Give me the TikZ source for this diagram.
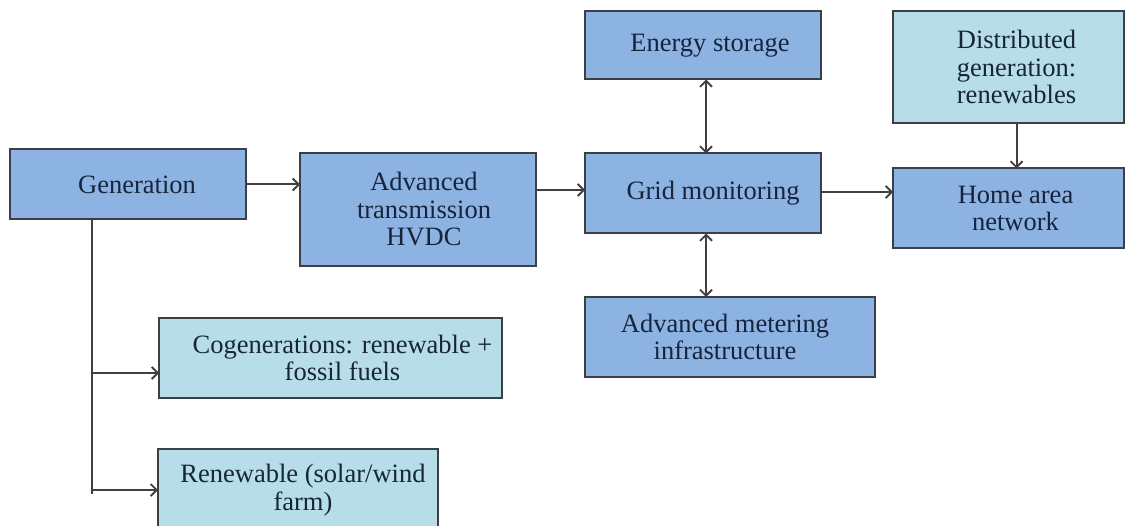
\documentclass[tikz,border=0pt]{standalone}
\usepackage{fontspec}
\setmainfont{Liberation Serif}
\usetikzlibrary{arrows.meta,calc}
\definecolor{darkbox}{HTML}{8DB3E2}
\definecolor{lightbox}{HTML}{B7DDE8}
\definecolor{edge}{HTML}{3A3F48}
\definecolor{navy}{HTML}{16243C}
\definecolor{arrowgray}{HTML}{404040}
\newcommand{\boxfont}{\fontsize{26.5}{27.5}\selectfont}
\begin{document}
\begin{tikzpicture}[x=1pt,y=-1pt,
  box/.style={draw=edge, line width=2pt, rectangle, inner sep=0pt, outer sep=0pt},
  dbox/.style={box, fill=darkbox},
  lbox/.style={box, fill=lightbox},
  every label/.style={font=\boxfont, text=navy, align=center, inner sep=0pt},
  arr/.style={draw=arrowgray, line width=2pt, -{Straight Barb[length=6pt,width=12pt,line width=1.8pt]}},
  darr/.style={draw=arrowgray, line width=2pt, {Straight Barb[length=6pt,width=12pt,line width=1.8pt]}-{Straight Barb[length=6pt,width=12pt,line width=1.8pt]}},
  line/.style={draw=arrowgray, line width=2pt}]
\useasboundingbox (0,0) rectangle (1126,526);
\clip (0,0) rectangle (1126,526);
\fill[white] (0,0) rectangle (1126,526);

\node[dbox, minimum width=236pt, minimum height=70pt, label={[xshift=9pt]center:Generation}] (gen) at (128,184.5) {};
\node[dbox, minimum width=236pt, minimum height=113pt, label={[xshift=6pt]center:Advanced\\transmission\\HVDC}] (hvdc) at (418,209.5) {};
\node[dbox, minimum width=236pt, minimum height=68pt, label={[xshift=7pt]center:Energy storage}] (es) at (703,45.5) {};
\node[dbox, minimum width=236pt, minimum height=80pt, label={[xshift=10pt]center:Grid monitoring}] (grid) at (703,193.5) {};
\node[dbox, minimum width=290pt, minimum height=80pt, label={[xshift=-5pt]center:Advanced metering\\infrastructure}] (ami) at (730,337) {};
\node[lbox, minimum width=231pt, minimum height=112pt, label={[xshift=8pt]center:Distributed\\generation:\\renewables}] (dg) at (1008.5,67) {};
\node[dbox, minimum width=231pt, minimum height=80pt, label={[xshift=7pt]center:Home area\\network}] (han) at (1008.5,208.5) {};
\node[lbox, minimum width=343pt, minimum height=80pt, label={[xshift=12pt]center:Cogenerations: renewable +\\fossil fuels}] (cog) at (330.5,358) {};
\node[lbox, minimum width=280pt, minimum height=92pt, label={[xshift=5pt,yshift=5pt]center:Renewable (solar/wind\\farm)}] (ren) at (298,495) {};

\coordinate (t0) at ($(gen.south west)+(82,0)$);
\coordinate (t1) at (92,494);
\coordinate (c1) at (92,373);
\coordinate (r1) at (92,490);

\draw[arr] (gen.east) -- (gen.east -| hvdc.west);
\draw[arr] (hvdc.east |- 0,190) -- (grid.west |- 0,190);
\draw[arr] (grid.east |- 0,192) -- (han.west |- 0,192);
\draw[darr] (es.south) ++(3,0) coordinate (esb) -- (esb |- grid.north);
\draw[darr] (grid.south) ++(3,0) coordinate (gb) -- (gb |- ami.north);
\draw[arr] (dg.south) ++(8,0) coordinate (db) -- (db |- han.north);
\draw[line] (t0) -- (t1);
\draw[arr] (c1) -- (c1 -| cog.west);
\draw[arr] (r1) -- (r1 -| ren.west);
\end{tikzpicture}
\end{document}
